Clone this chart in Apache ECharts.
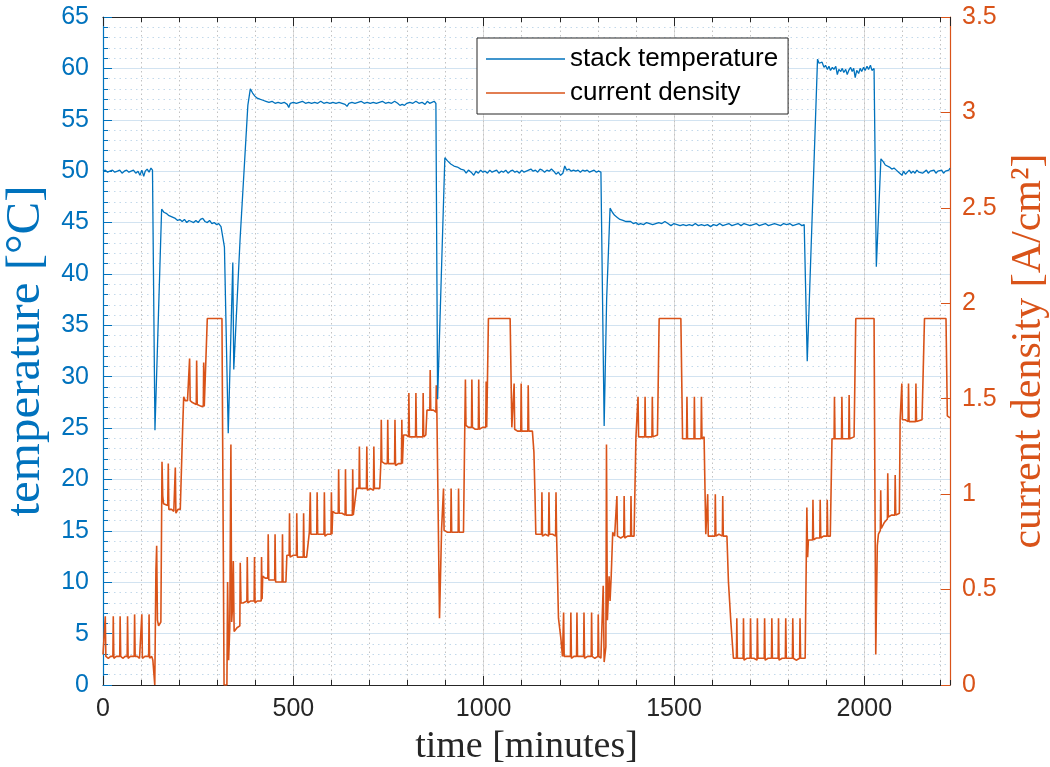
<!DOCTYPE html>
<html>
<head>
<meta charset="utf-8">
<script src="https://cdn.jsdelivr.net/npm/echarts@6/dist/echarts.min.js"></script>
<style>
html,body{margin:0;padding:0;background:#fff;}
#chart{width:1050px;height:767px;}
</style>
</head>
<body>
<div id="chart"></div>
<script>
// ---- DATA ----
const xTicks = [0, 500, 1000, 1500, 2000];
const seriesNames = ['stack temperature', 'current density'];

// stack temperature [°C] : [time (min), value]
const tempPart1 = [[0,50.0],[6,50.1],[12,49.9],[18,50.0],[25,50.1],[31,49.9],[38,50.0],[44,50.1],[50,49.8],[56,50.0],[62,50.1],[68,49.9],[74,50.0],[80,50.1],[86,49.8],[92,50.0],[97,49.6],[102,50.1],[107,49.5],[111,50.0],[116,50.2],[121,49.9],[126,50.3],[130,50.1],[136.5,24.8],[154,46.3],[160,46.0],[166,45.9],[172,45.7],[178,45.6],[184,45.5],[190,45.4],[196,45.2],[202,45.3],[208,45.1],[214,45.3],[220,45.0],[226,45.2],[232,45.1],[238,45.0],[244,45.2],[250,45.0],[256,45.3],[262,45.4],[268,45.1],[274,45.0],[280,45.2],[286,44.9],[292,45.0],[298,44.8],[304,44.9],[310,44.6],[315,43.5],[319,42.6],[329,24.5],[341,41.1],[343.5,30.7],[360,43.3],[380.5,56.4],[387,58.0],[393,57.6],[399,57.3],[405,57.1],[412,57.0],[420,56.9],[428,56.8],[436,56.7],[444,56.8],[452,56.6],[460,56.7],[468,56.6],[476,56.7],[484,56.5],[488,56.2],[492,56.6],[500,56.7],[508,56.6],[516,56.7],[524,56.8],[532,56.6],[540,56.7],[548,56.6],[556,56.7],[564,56.6],[572,56.8],[580,56.6],[588,56.7],[596,56.6],[604,56.7],[612,56.6],[620,56.7],[628,56.6],[636,56.5],[641,56.3],[646,56.6],[654,56.7],[662,56.6],[670,56.7],[678,56.8],[686,56.6],[694,56.7],[702,56.6],[710,56.7],[718,56.6],[726,56.7],[734,56.8],[742,56.6],[750,56.7],[758,56.6],[766,56.8],[774,56.6],[780,56.4],[786,56.5],[792,56.4],[798,56.6],[806,56.7],[814,56.6],[822,56.8],[830,56.6],[838,56.7],[846,56.5],[852,56.8],[858,56.6],[864,56.7],[870,56.8],[874.5,56.6]];
const tempPart2 = [[879,27.8],[898,51.3],[905,51.0],[913.5,50.7],[922,50.5],[931,50.4],[940,50.2],[948.5,50.1],[954,49.8],[960,50.1],[967,49.9],[974,49.6],[980,50.0],[986,49.8],[992,50.1],[998,49.9],[1004,50.0],[1010,49.8],[1016,50.1],[1022,49.9],[1028,50.0],[1034,50.1],[1040,49.8],[1046,50.0],[1052,49.9],[1058,50.1],[1064,49.8],[1070,50.0],[1076,50.1],[1082,49.9],[1088,50.0],[1094,49.8],[1100,50.1],[1106,49.9],[1112,50.0],[1118,50.1],[1124,50.2],[1130,50.0],[1136,50.1],[1142,49.9],[1148,50.2],[1154,50.1],[1160,49.9],[1166,50.1],[1172,50.0],[1178,50.2],[1184,50.0],[1190,49.7],[1196,49.9],[1202,49.6],[1208,49.8],[1213,50.5],[1218,50.1],[1224,50.2],[1230,50.0],[1236,50.1],[1242,50.0],[1248,50.1],[1254,49.9],[1260,50.1],[1266,50.0],[1272,50.1],[1278,49.9],[1284,50.0],[1290,50.1],[1296,49.9],[1302,50.0],[1308,49.9],[1310,50.0],[1316.5,25.2],[1323,37.5],[1332,46.4],[1338,46.0],[1344,45.7],[1351,45.5],[1358,45.3],[1366,45.2],[1374,45.1],[1386,45.1],[1393,44.9],[1400,45.0],[1406,44.8],[1412,44.9],[1420,44.8],[1428,45.0],[1436,44.9],[1444,44.8],[1452,44.9],[1460,45.0],[1468,44.9],[1476,45.1],[1484,44.9],[1492,44.7],[1500,44.9],[1508,44.8],[1516,44.7],[1524,44.8],[1532,44.7],[1540,44.8],[1548,44.7],[1556,44.9],[1564,44.7],[1572,44.8],[1580,44.7],[1588,44.8],[1596,44.6],[1604,44.8],[1612,44.7],[1620,44.9],[1628,44.7],[1636,44.8],[1644,44.9],[1652,44.7],[1660,44.8],[1668,44.9],[1676,44.7],[1684,44.9],[1692,44.8],[1700,44.7],[1708,44.8],[1716,44.9],[1724,44.7],[1732,44.8],[1740,44.9],[1748,44.7],[1756,44.8],[1764,44.9],[1772,44.8],[1780,44.7],[1788,44.9],[1796,44.8],[1804,44.9],[1812,44.7],[1820,44.8],[1828,44.9],[1836,44.7],[1842,44.8],[1845,44.8]];
const tempPart3 = [[1850,31.5],[1877,60.9],[1881,60.5],[1885,60.4],[1889,60.6],[1894,60.1],[1898,60.3],[1903,59.9],[1907,60.2],[1911,59.8],[1916,60.1],[1920,59.9],[1925,60.2],[1929,59.4],[1933,59.9],[1938,59.7],[1942,60.0],[1946,59.6],[1951,59.9],[1955,59.4],[1959,59.8],[1964,60.1],[1968,59.7],[1972,60.0],[1976,59.1],[1980,59.8],[1985,59.5],[1989,60.0],[1993,59.7],[1998,60.1],[2002,59.8],[2007,60.2],[2011,59.9],[2016,60.3],[2020,59.8],[2025.5,60.0],[2031.5,40.7],[2043.5,51.2],[2050,50.9],[2055,50.6],[2060,50.5],[2066,50.4],[2072,50.2],[2078,50.3],[2084,50.1],[2090,49.9],[2095,49.9],[2099,49.6],[2103,50.0],[2108,49.7],[2113,49.9],[2118,50.1],[2123,49.8],[2128,50.0],[2133,49.8],[2138,50.1],[2143,49.9],[2148,50.0],[2153,49.8],[2158,49.9],[2163,50.1],[2168,49.8],[2173,50.0],[2178,49.9],[2183,50.1],[2188,49.8],[2193,50.0],[2198,49.9],[2203,50.1],[2208,49.8],[2213,50.0],[2218,49.9],[2222,50.1],[2225,50.3]];

// current density [A/cm²] : [time (min), value]
const cdPart1 = [[0,0.16],[3,0.15],[5,0.15],[6,0.36],[7.5,0.15],[14,0.14],[20,0.15],[26,0.15],[27,0.36],[28.5,0.14],[35,0.15],[39,0.14],[44,0.15],[45,0.36],[46.5,0.15],[52,0.14],[58,0.15],[63.5,0.15],[64.5,0.36],[66,0.14],[72,0.15],[77,0.14],[82,0.15],[83,0.37],[84.5,0.15],[90,0.15],[96,0.14],[101,0.15],[102,0.37],[103.5,0.14],[110,0.15],[115,0.15],[120,0.15],[121,0.37],[122.5,0.14],[128,0.15],[131,0.13],[136,0.0],[139,0.60],[141,0.73],[143,0.34],[146,0.31],[149,0.30],[152,0.33],[155,1.17],[157,0.99],[159,0.95],[164,0.94],[170,0.94],[171.5,1.16],[173,0.92],[180,0.92],[186,0.91],[189,0.91],[190,1.14],[191.5,0.90],[197,0.92],[203,0.92],[209,1.33],[212,1.51],[216,1.49],[222,1.49],[226.5,1.48],[227.5,1.71],[229,1.49],[235,1.48],[240,1.47],[245,1.47],[246,1.70],[247.5,1.47],[252,1.46],[258,1.46],[263.5,1.46],[264.5,1.69],[266,1.46],[271,1.46],[274,1.92],[312.5,1.92],[318,0],[325.5,0]];
const cdPart2 = [[327.3,0.54],[330,0.13],[333,0.30],[336,1.26],[338,0.33],[340,0.40],[342.3,0.65],[344.5,0.28],[348,0.29],[352,0.30],[356,0.31],[359.5,0.31],[360.5,0.64],[362.5,0.43],[368,0.43],[373,0.44],[378,0.44],[379,0.67],[380.5,0.43],[387,0.44],[392,0.44],[397,0.44],[398,0.67],[399.5,0.43],[405,0.44],[410,0.44],[415.5,0.44],[416.5,0.67],[418,0.45],[419.5,0.57],[426,0.56],[433,0.56],[434,0.79],[435.5,0.55],[442,0.55],[451,0.55],[452,0.79],[453.5,0.54],[460,0.54],[470.5,0.54],[471.5,0.79],[473,0.54],[480.5,0.54],[483,0.68],[489,0.68],[490,0.90],[491.5,0.67],[500,0.68],[508,0.68],[509,0.90],[510.5,0.67],[518,0.67],[526,0.67],[527,0.90],[528.5,0.67],[535,0.67],[540,0.67],[542,0.80],[543.5,0.80],[544.5,1.01],[546,0.79],[553,0.79],[561.5,0.79],[562.5,1.01],[564,0.79],[572,0.79],[580.5,0.79],[581.5,1.01],[583,0.78],[590,0.79],[599,0.79],[600,1.01],[601.5,0.79],[603.5,0.91],[610,0.90],[618,0.90],[619,1.13],[620.5,0.90],[628,0.90],[636,0.89],[637,1.13],[638.5,0.89],[646,0.89],[655,0.89],[656,1.13],[657.5,0.89],[661.5,0.89],[666,1.03],[672.5,1.03],[673.5,1.25],[675,1.03],[683,1.03],[692,1.03],[693,1.25],[694.5,1.02],[702,1.03],[710.5,1.02],[711.5,1.25],[713,1.03],[720,1.03],[727,1.03],[730,1.17],[731,1.39],[732.5,1.17],[740,1.16],[747,1.16],[748,1.39],[749.5,1.16],[758,1.16],[766,1.16],[767,1.39],[768.5,1.15],[776,1.16],[784,1.16],[785,1.39],[786.5,1.16],[789.5,1.31],[796,1.31],[802.5,1.30],[803.5,1.53],[805,1.30],[813,1.30],[821,1.30],[822,1.53],[823.5,1.30],[832,1.30],[840,1.30],[841,1.53],[842.5,1.30],[848,1.31],[851,1.44],[858.5,1.44],[859.5,1.65],[861,1.44],[868,1.44],[874.5,1.43],[875.5,1.57],[877,1.44]];
const cdPart3 = [[884,0.35],[889.5,0.82],[893.5,0.81],[894.5,1.03],[896,0.81],[905,0.80],[913.5,0.80],[914.5,1.03],[916,0.80],[925,0.80],[933,0.80],[934,1.03],[935.5,0.80],[947,0.80],[950.5,1.37],[952,1.60],[953.5,1.36],[960,1.35],[968,1.35],[969,1.60],[970.5,1.35],[978,1.34],[986,1.34],[987,1.60],[988.5,1.34],[997,1.35],[1005.5,1.35],[1006.5,1.59],[1008,1.35],[1012.5,1.92],[1069.5,1.92],[1074,1.35],[1079,1.35],[1080,1.58],[1081.5,1.34],[1089,1.33],[1097.5,1.33],[1098.5,1.58],[1100,1.33],[1107,1.33],[1116,1.33],[1117,1.57],[1118.5,1.33],[1128,1.33],[1132,1.22],[1135,0.98],[1137,0.79],[1145,0.79],[1152,0.79],[1153,1.01],[1154.5,0.78],[1162,0.79],[1170.5,0.78],[1171.5,1.01],[1173,0.79],[1181,0.79],[1189,0.78],[1190,1.01],[1191.5,0.79],[1194,0.79],[1196.5,0.35],[1202.5,0.25],[1207,0.15],[1209,0.15],[1210,0.38],[1211.5,0.15],[1219,0.15],[1228,0.15],[1229,0.38],[1230.5,0.14],[1237,0.15],[1244,0.15],[1245,0.38],[1246.5,0.15],[1254,0.15],[1262.5,0.15],[1263.5,0.38],[1265,0.14],[1273,0.15],[1282.5,0.15],[1283.5,0.38],[1285,0.15],[1292,0.14],[1300,0.15],[1301,0.37],[1302.5,0.15],[1308,0.14],[1312,0.14],[1314,0.52],[1316.5,0.12],[1321,0.20],[1322.6,1.26],[1325,0.34],[1329.5,0.57],[1332,0.44],[1335,0.57],[1339,0.80],[1344,0.78],[1349,0.78],[1350,0.99],[1351.5,0.78],[1360,0.77],[1368,0.78],[1369,0.99],[1370.5,0.77],[1378,0.78],[1386,0.78],[1387,0.99],[1388.5,0.78],[1395,0.78],[1400,1.30],[1404.5,1.30],[1405.5,1.51],[1407,1.30],[1415,1.30],[1423,1.30],[1424,1.51],[1425.5,1.30],[1434,1.30],[1442,1.30],[1443,1.51],[1444.5,1.30],[1456.5,1.31],[1461,1.92],[1518,1.92]];
const cdPart4 = [[1522.5,1.29],[1533,1.29],[1534,1.51],[1535.5,1.29],[1544,1.29],[1552.5,1.29],[1553.5,1.51],[1555,1.29],[1563,1.29],[1571,1.29],[1572,1.51],[1573.5,1.29],[1579,1.30],[1583.5,0.79],[1587.5,0.78],[1588.5,1.00],[1590,0.78],[1598,0.78],[1607.5,0.78],[1608.5,1.00],[1610,0.78],[1618,0.79],[1627,0.78],[1628,0.99],[1629.5,0.78],[1639,0.78],[1643,0.54],[1649,0.34],[1656,0.14],[1664,0.14],[1665,0.35],[1666.5,0.14],[1673,0.14],[1681.5,0.14],[1682.5,0.35],[1684,0.13],[1691,0.14],[1700,0.14],[1701,0.35],[1702.5,0.14],[1710,0.14],[1718,0.13],[1719,0.35],[1720.5,0.14],[1728,0.14],[1737,0.14],[1738,0.35],[1739.5,0.13],[1747,0.14],[1756,0.14],[1757,0.35],[1758.5,0.14],[1765,0.14],[1773.5,0.14],[1774.5,0.35],[1776,0.13],[1784,0.14],[1792.5,0.14],[1793.5,0.35],[1795,0.14],[1803,0.14],[1811,0.14],[1812,0.35],[1813.5,0.14],[1821,0.13],[1830,0.14],[1831,0.35],[1832.5,0.14],[1844.5,0.14],[1849,0.93],[1851,0.67],[1853,0.76],[1858,0.76],[1864,0.76],[1865,0.97],[1866.5,0.76],[1874,0.77],[1883,0.77],[1884,0.97],[1885.5,0.77],[1893,0.78],[1901.5,0.78],[1902.5,0.97],[1904,0.78],[1910.5,0.78],[1915,1.29],[1920.5,1.29],[1921.5,1.51],[1923,1.29],[1931,1.29],[1940,1.29],[1941,1.51],[1942.5,1.29],[1950,1.29],[1959,1.29],[1960,1.52],[1961.5,1.29],[1973,1.30],[1977.5,1.92],[2025.5,1.92],[2030,0.16],[2034,0.73],[2037,0.79],[2042,0.81],[2043,1.02],[2044.5,0.82],[2052,0.85],[2060.5,0.87],[2061.5,1.11],[2063,0.88],[2071,0.89],[2080,0.89],[2081,1.10],[2082.5,0.89],[2092,0.90],[2094,1.39],[2097.5,1.39],[2098.5,1.58],[2100,1.39],[2107,1.39],[2115,1.38],[2116,1.58],[2117.5,1.38],[2125,1.38],[2134.5,1.38],[2135.5,1.58],[2137,1.38],[2151.5,1.39],[2158,1.92],[2214.5,1.92],[2218,1.41],[2225,1.40]];

// ---- CHART ----
const tempData = tempPart1.concat(tempPart2, tempPart3);
const cdData = cdPart1.concat(cdPart2, cdPart3, cdPart4);

const BLUE = '#0072BD', ORANGE = '#D95319', DARK = '#262626';
const SANS = '"Liberation Sans", Arial, Helvetica, sans-serif';
const SERIF = '"Liberation Serif", "Times New Roman", serif';
const X_MIN = 0, X_MAX = 2225;

function xAx(extra) {
  return Object.assign({
    type: 'value', min: X_MIN, max: X_MAX, gridIndex: 0,
    axisLine: { show: false, onZero: false },
    axisTick: { show: false },
    axisLabel: { show: false },
    splitLine: { show: false }
  }, extra);
}

const chart = echarts.init(document.getElementById('chart'), null, { renderer: 'canvas' });
chart.setOption({
  animation: false,
  backgroundColor: '#ffffff',
  grid: { left: 103, right: 100, top: 17, bottom: 82, containLabel: false, outerBoundsMode: 'none' },
  legend: {
    data: seriesNames,
    orient: 'vertical',
    left: 477, top: 38,
    icon: 'rect',
    itemWidth: 79, itemHeight: 1.6,
    itemGap: 8,
    padding: [8, 10, 8, 9],
    backgroundColor: '#ffffff',
    borderColor: DARK, borderWidth: 1,
    textStyle: { fontFamily: SANS, fontSize: 26, color: '#000' }
  },
  xAxis: [
    xAx({
      position: 'bottom', interval: 500,
      axisLine: { show: true, onZero: false, lineStyle: { color: DARK, width: 1.2 } },
      axisTick: { show: true, inside: true, length: 9, lineStyle: { color: DARK } },
      axisLabel: {
        show: true, fontFamily: SANS, fontSize: 25, color: DARK, margin: 12,
        showMaxLabel: false,
        formatter: v => (xTicks.indexOf(v) >= 0 ? String(v) : '')
      },
      splitLine: { show: true, lineStyle: { color: '#dcdcdc', width: 1 } },
      name: 'time [minutes]', nameLocation: 'middle', nameGap: 43,
      nameTextStyle: { fontFamily: SERIF, fontSize: 38, color: DARK }
    }),
    xAx({
      position: 'bottom', interval: 100,
      axisTick: { show: true, inside: true, length: 5, lineStyle: { color: DARK } },
      splitLine: { show: true, lineStyle: { color: '#c2c2c2', width: 1, type: [1.5, 3] } }
    }),
    xAx({
      position: 'top', interval: 500,
      axisLine: { show: true, onZero: false, lineStyle: { color: DARK, width: 1.2 } },
      axisTick: { show: true, inside: true, length: 9, lineStyle: { color: DARK } }
    }),
    xAx({
      position: 'top', interval: 100,
      axisTick: { show: true, inside: true, length: 5, lineStyle: { color: DARK } }
    })
  ],
  yAxis: [
    {
      type: 'value', position: 'left', min: 0, max: 65, interval: 5,
      axisLine: { show: true, onZero: false, lineStyle: { color: BLUE, width: 1.2 } },
      axisTick: { show: true, inside: true, length: 9, lineStyle: { color: BLUE } },
      minorTick: { show: true, splitNumber: 5, length: 5, lineStyle: { color: BLUE } },
      axisLabel: { fontFamily: SANS, fontSize: 25, color: BLUE, margin: 14 },
      splitLine: { show: true, lineStyle: { color: '#d2e3f1', width: 1 } },
      minorSplitLine: { show: true, lineStyle: { color: '#c3d9eb', width: 1, type: [1.5, 4] } },
      name: 'temperature [°C]', nameLocation: 'middle', nameGap: 43, nameRotate: 90,
      nameTextStyle: { fontFamily: SERIF, fontSize: 49, color: BLUE }
    },
    {
      type: 'value', position: 'right', min: 0, max: 3.5, interval: 0.5,
      axisLine: { show: true, onZero: false, lineStyle: { color: ORANGE, width: 1.2 } },
      axisTick: { show: true, inside: true, length: 9, lineStyle: { color: ORANGE } },
      axisLabel: { fontFamily: SANS, fontSize: 25, color: ORANGE, margin: 12 },
      splitLine: { show: false },
      name: 'current density [A/cm²]', nameLocation: 'middle', nameGap: 55, nameRotate: 90,
      nameTextStyle: { fontFamily: SERIF, fontSize: 42, color: ORANGE }
    }
  ],
  series: [
    {
      name: 'current density', type: 'line', xAxisIndex: 0, yAxisIndex: 1,
      data: cdData, showSymbol: false, symbol: 'none', color: ORANGE,
      lineStyle: { color: ORANGE, width: 1.6 }, z: 2
    },
    {
      name: 'stack temperature', type: 'line', xAxisIndex: 0, yAxisIndex: 0,
      data: tempData, showSymbol: false, symbol: 'none', color: BLUE,
      lineStyle: { color: BLUE, width: 1.3 }, z: 3
    }
  ]
});
</script>
</body>
</html>
